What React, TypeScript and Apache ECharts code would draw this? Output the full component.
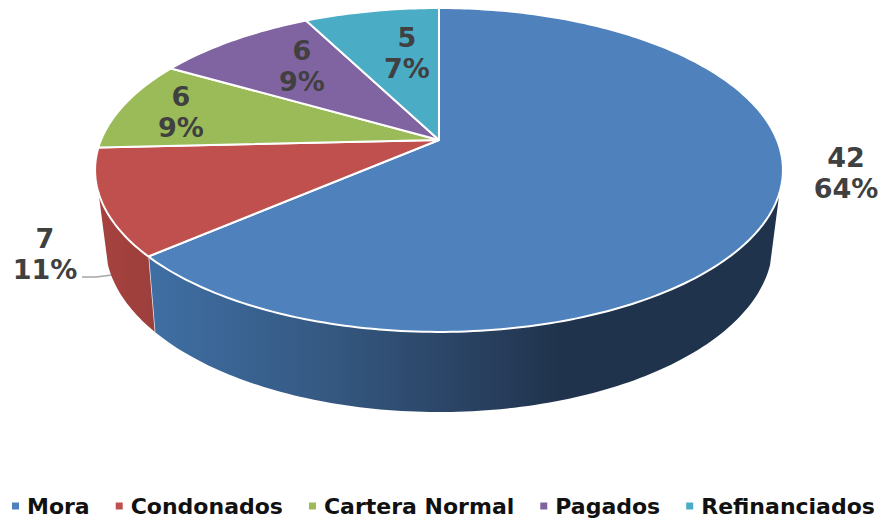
import React, { useEffect, useRef } from "react";
import * as echarts from "echarts";

const categories = ["Mora", "Condonados", "Cartera Normal", "Pagados", "Refinanciados"];
const values = [42, 7, 6, 6, 5];
const percentLabels = ["64%", "11%", "9%", "9%", "7%"];
const colors = ["#4f81bd", "#c0504d", "#9bbb59", "#8064a2", "#4bacc6"];

// Perspective of the tilted disc: [centre x, apex y, half width, half height, perspective]
const TOP_RIM = { cx: 439, cy: 140, r: 338, s: 156.4, k: 0.185 };
const LOW_RIM = { cx: 439, cy: 210, r: 327, s: 161.6, k: 0.2 };
const WALL_FROM = 108.6;
const WALL_TO = 251.4;
const labelAnchors = [
  [846, 173],
  [45, 254],
  [181, 112],
  [302, 66],
  [407, 53],
];
const LEADER = [[82, 277], [96, 277], [112, 275]];

const total = values.reduce((a, b) => a + b, 0);

function project(rim: typeof TOP_RIM, deg: number): number[] {
  const t = (deg * Math.PI) / 180;
  const X = Math.sin(t);
  const Y = Math.cos(t);
  const d = 1 + rim.k * Y;
  return [rim.cx + (rim.r * X) / d, rim.cy - (rim.s * Y) / d];
}

function arc(rim: typeof TOP_RIM, a: number, b: number): number[][] {
  const pts: number[][] = [];
  const n = Math.max(2, Math.ceil(Math.abs(b - a)));
  for (let i = 0; i <= n; i++) pts.push(project(rim, a + ((b - a) * i) / n));
  return pts;
}

const wallFill: any[] = [
  new echarts.graphic.LinearGradient(
    155, 0, 560, 0,
    [
      { offset: 0, color: "#3f6ea3" },
      { offset: 0.45, color: "#34577f" },
      { offset: 0.85, color: "#273d5b" },
      { offset: 1, color: "#1f334c" },
    ],
    true
  ),
  new echarts.graphic.LinearGradient(
    100, 0, 155, 0,
    [
      { offset: 0, color: "#a5423f" },
      { offset: 1, color: "#9c3f3c" },
    ],
    true
  ),
];

function renderSlice(index: number) {
  return (_params: any, api: any) => {
    const before = values.slice(0, index).reduce((a, b) => a + b, 0);
    const a0 = (before / total) * 360;
    const a1 = ((before + api.value(0)) / total) * 360;
    const children: any[] = [];

    if (index === 1) {
      children.push({
        type: "polyline",
        silent: true,
        shape: { points: LEADER },
        style: { stroke: "#a6a6a6", lineWidth: 1.5, fill: "none" },
      });
    }

    const w0 = Math.max(a0, WALL_FROM);
    const w1 = Math.min(a1, WALL_TO);
    if (w1 > w0) {
      children.push({
        type: "polygon",
        silent: true,
        shape: { points: [...arc(TOP_RIM, w0, w1), ...arc(LOW_RIM, w1, w0)] },
        style: { fill: wallFill[index] },
      });
      if (a1 < WALL_TO) {
        children.push({
          type: "line",
          silent: true,
          shape: {
            x1: project(TOP_RIM, a1)[0],
            y1: project(TOP_RIM, a1)[1],
            x2: project(LOW_RIM, a1)[0],
            y2: project(LOW_RIM, a1)[1],
          },
          style: { stroke: "#e8e8e8", lineWidth: 1.5 },
        });
      }
    }

    children.push({
      type: "polygon",
      silent: true,
      shape: { points: [[TOP_RIM.cx, TOP_RIM.cy], ...arc(TOP_RIM, a0, a1)] },
      style: { fill: colors[index], stroke: "#ffffff", lineWidth: 2, lineJoin: "round" },
    });

    children.push({
      type: "text",
      silent: true,
      x: labelAnchors[index][0],
      y: labelAnchors[index][1],
      style: {
        text: `${api.value(0)}\n${percentLabels[index]}`,
        fill: "#404040",
        font: 'bold 27px "DejaVu Sans"',
        align: "center",
        verticalAlign: "middle",
        lineHeight: 31,
      },
    });

    return { type: "group", children };
  };
}

export default function App() {
  const ref = useRef<HTMLDivElement>(null);
  useEffect(() => {
    const chart = echarts.init(ref.current!, undefined, { renderer: "svg" });
    chart.setOption({
      animation: false,
      backgroundColor: "#ffffff",
      color: colors,
      legend: {
        left: 12,
        top: 495,
        width: 900,
        padding: 0,
        itemWidth: 7,
        itemHeight: 7,
        itemGap: 26,
        icon: "rect",
        selectedMode: false,
        data: categories,
        textStyle: {
          color: "#111111",
          fontFamily: "DejaVu Sans",
          fontWeight: "bold",
          fontSize: 22,
          padding: [0, 0, 0, 3],
        },
      },
      series: categories.map((name, i) => ({
        type: "custom",
        name,
        coordinateSystem: "none",
        silent: true,
        itemStyle: { color: colors[i] },
        data: [[values[i]]],
        renderItem: renderSlice(i),
      })),
    });
    return () => chart.dispose();
  }, []);
  return (
    <div
      ref={ref}
      style={{ position: "fixed", left: 0, top: 0, width: 881, height: 519 }}
    />
  );
}
